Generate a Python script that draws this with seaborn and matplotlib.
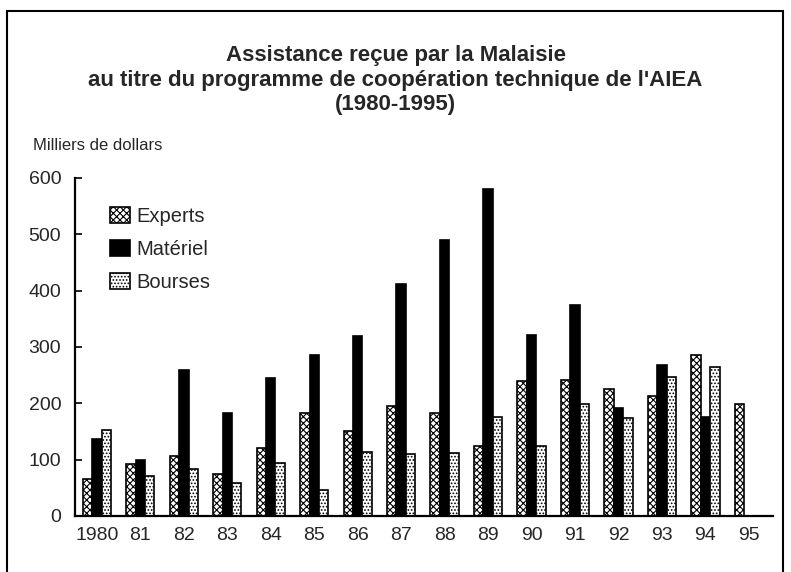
import seaborn as sns
import matplotlib.pyplot as plt
import pandas as pd
import numpy as np
from matplotlib.patches import Patch, Rectangle

sns.set_theme(style="white")
plt.rcParams['font.family'] = ['Liberation Sans', 'DejaVu Sans']
plt.rcParams['hatch.linewidth'] = 0.8

# ── Data (thousands of dollars) ───
years = ["1980", "81", "82", "83", "84", "85", "86", "87",
         "88", "89", "90", "91", "92", "93", "94", "95"]
experts = [66, 92, 106, 74, 121, 182, 150, 195,
           182, 124, 240, 242, 225, 212, 286, 199]
materiel = [137, 100, 259, 182, 244, 286, 320, 411,
            490, 580, 322, 374, 191, 268, 176, np.nan]
bourses = [152, 71, 84, 59, 94, 46, 113, 110,
           111, 175, 124, 199, 174, 247, 265, np.nan]
series = ["Experts", "Matériel", "Bourses"]

df = pd.DataFrame({
    "year": years * 3,
    "value": experts + materiel + bourses,
    "type": [s for s in series for _ in years],
}).dropna()

# ── Figure ────────────────────────────────────────────
fig = plt.figure(figsize=(7.91, 5.72), dpi=100)
ax = fig.add_axes([0.095, 0.098, 0.882, 0.591])

sns.barplot(data=df, x="year", y="value", hue="type", order=years,
            hue_order=series, width=0.65, gap=0, legend=False, ax=ax,
            edgecolor="black", linewidth=1.2)

styles = {
    "Experts": dict(facecolor="white", hatch="xxxxx"),
    "Matériel": dict(facecolor="black", hatch=None),
    "Bourses": dict(facecolor="white", hatch="....."),
}
for cont, name in zip(ax.containers, series):
    for bar in cont:
        bar.set_facecolor(styles[name]["facecolor"])
        bar.set_hatch(styles[name]["hatch"])
        bar.set_edgecolor("black")

ax.set_ylim(0, 600)
ax.set_xlim(-0.5, len(years) - 0.45)
ax.set_yticks(range(0, 601, 100))
ax.set_xlabel("")
ax.set_ylabel("")
ax.set_xticks(range(len(years)))
ax.set_xticklabels(years)
ax.set_xticks(np.arange(len(years)) + 0.5, minor=True)
ax.tick_params(axis="x", which="major", length=0, labelsize=14, pad=8)
ax.tick_params(axis="x", which="minor", direction="in", length=3, width=1.2,
               color="black")
ax.tick_params(axis="y", direction="in", length=5, width=1.2,
               labelsize=14, color="black", left=True, pad=10)

sns.despine(ax=ax)
for side in ["left", "bottom"]:
    ax.spines[side].set_color("black")
    ax.spines[side].set_linewidth(1.6)

handles = [Patch(facecolor=styles[s]["facecolor"], hatch=styles[s]["hatch"],
                 edgecolor="black", linewidth=1.2, label=s) for s in series]
ax.legend(handles=handles, loc="upper left", bbox_to_anchor=(0.05, 0.915),
          frameon=False, fontsize=14.5, handlelength=1.0, handleheight=0.85,
          handletextpad=0.3, labelspacing=0.7, borderpad=0, borderaxespad=0)

# ── Titles ────────────────────────────────────────────
fig.text(0.5, 0.86, "Assistance reçue par la Malaisie\n"
         "au titre du programme de coopération technique de l'AIEA\n"
         "(1980-1995)", ha="center", va="center", fontsize=16,
         fontweight="bold", linespacing=1.22)
fig.text(0.042, 0.746, "Milliers de dollars", ha="left", va="center",
         fontsize=12)

# frame around the figure
fig.patches.append(Rectangle((0.009, -0.02), 0.981, 1.0, transform=fig.transFigure,
                             fill=False, edgecolor="black", linewidth=1.5))

fig.savefig("out.png", dpi=100)
